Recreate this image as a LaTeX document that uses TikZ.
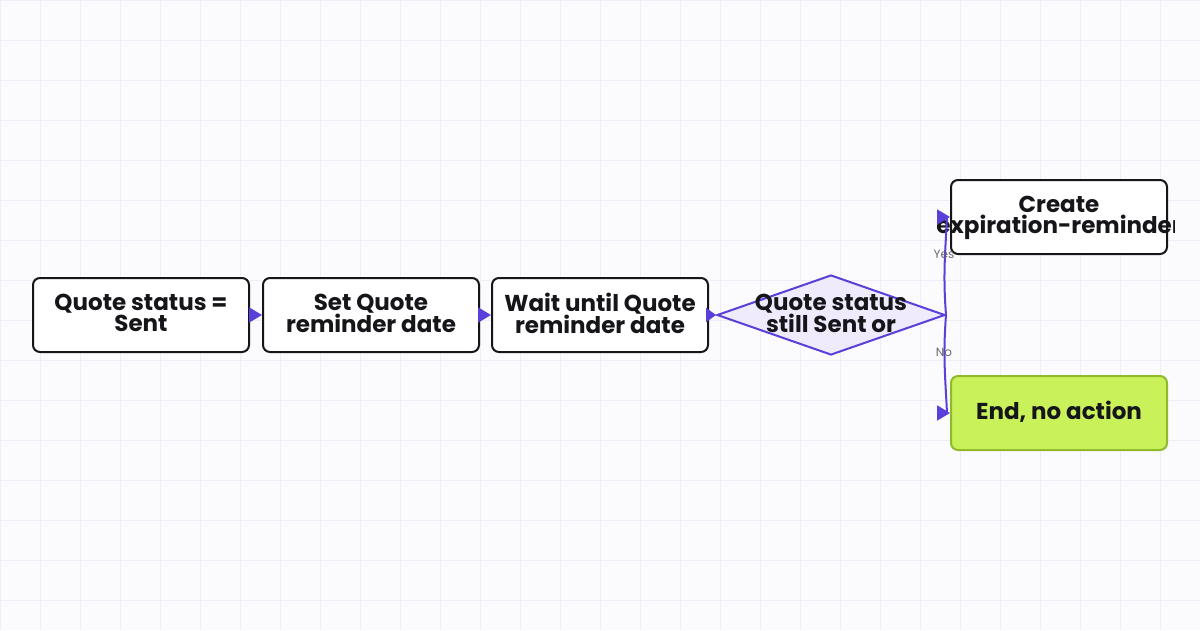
\documentclass[tikz,border=0pt]{standalone}
\usepackage{fontspec}
\setmainfont{Poppins}
\usetikzlibrary{shapes.geometric,arrows.meta,calc}
\definecolor{bg}{HTML}{FBFBFE}
\definecolor{gridc}{HTML}{EEEDF8}
\definecolor{ink}{HTML}{15151A}
\definecolor{purp}{HTML}{5B3FD9}
\definecolor{lav}{HTML}{EFEBFC}
\definecolor{lime}{HTML}{C9F159}
\definecolor{limeb}{HTML}{8FBA2A}
\definecolor{lbl}{HTML}{6A6A70}
\tikzset{
  box/.style={draw=ink, line width=2pt, rounded corners=7pt, fill=white,
    minimum width=216pt, minimum height=74pt, inner sep=0pt},
  boxtext/.style={font=\fontsize{23}{21}\selectfont\bfseries, text=ink, align=center},
  endbox/.style={box, draw=limeb, fill=lime},
  flow/.style={draw=purp, line width=2pt, -{Triangle[length=13pt,width=15pt]}},
  elabel/.style={font=\fontsize{12}{13}\selectfont, text=lbl}
}
\begin{document}
\begin{tikzpicture}[x=1pt,y=-1pt]
\useasboundingbox (0,0) rectangle (1200,630);
\fill[bg] (0,0) rectangle (1200,630);
\foreach \i in {0,40,...,1200} \draw[gridc, line width=1pt] (\i,0) -- (\i,630);
\foreach \j in {0,40,...,600} \draw[gridc, line width=1pt] (0,\j) -- (1200,\j);

\node[box] (A) at (141,315) {};
\node[boxtext] (At) at ($(A.center)+(0,-2)$) {Quote status =\\Sent};
\node[box] (B) at (371,315) {};
\node[boxtext] (Bt) at ($(B.center)+(0,-2)$) {Set Quote\\reminder date};
\node[box] (C) at (600,315) {};
\node[boxtext] (Ct) at ($(C.center)+(0,-2)$) {Wait until Quote\\reminder date};
\node[diamond, draw=purp, fill=lav, line width=2pt, minimum width=228pt,
  minimum height=80pt, inner sep=0pt] (D) at (831,315) {};
\node[boxtext] (Dt) at ($(D.center)+(0,-2)$) {Quote status\\still Sent or};
\node[box] (E) at (1059,217) {};
\begin{scope}
\clip (0,0) rectangle (1174,630);
\node[boxtext] (Et) at ($(E.center)+(0,1)$) {Create\\expiration-reminder};
\end{scope}
\node[endbox] (F) at (1059,413) {};
\node[boxtext] (Ft) at ($(F.center)+(0,-1)$) {End, no action};

\draw[flow] (A.east) -- (B.west);
\draw[flow] (B.east) -- (C.west);
\draw[flow, -{Triangle[length=10pt,width=14pt]}] (C.east) -- (D.west);
\draw[flow] (D.east) .. controls ($(D.east)+(-3,-40)$) and ($(E.west)+(-5,40)$) .. ($(E.west)+(-3,0)$) -- (E.west);
\draw[flow] (D.east) .. controls ($(D.east)+(-3,40)$) and ($(F.west)+(-5,-40)$) .. ($(F.west)+(-3,0)$) -- (F.west);
\node[elabel] (yes) at (944,254) {Yes};
\node[elabel] (no) at (944,352) {No};
\end{tikzpicture}
\end{document}
